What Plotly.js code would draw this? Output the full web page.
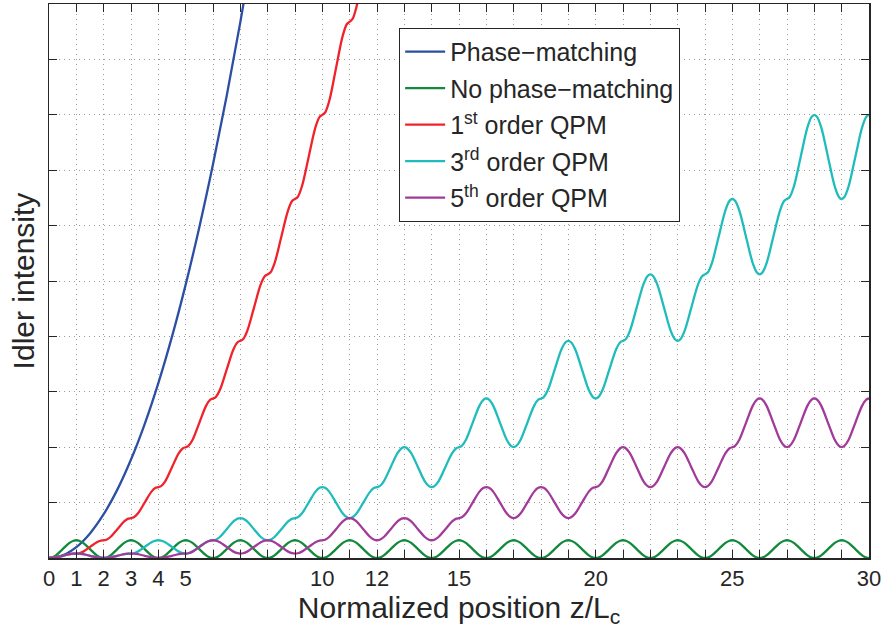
<!DOCTYPE html>
<html>
<head>
<meta charset="utf-8">
<script src="https://cdn.plot.ly/plotly-3.0.1.min.js"></script>
<style>html,body{margin:0;padding:0;background:#fff;}#chart{width:887px;height:635px;}</style>
</head>
<body>
<div id="chart"></div>
<script>
// Sample positions along z/Lc (read positions)
const zPos = [
0,0.1,0.25,0.5,0.75,0.9, 1,1.1,1.25,1.5,1.75,1.9, 2,2.1,2.25,2.5,2.75,2.9, 3,3.1,3.25,3.5,3.75,3.9,
4,4.1,4.25,4.5,4.75,4.9, 5,5.1,5.25,5.5,5.75,5.9, 6,6.1,6.25,6.5,6.75,6.9, 7,7.1,7.25,7.5,7.75,7.9,
8,8.1,8.25,8.5,8.75,8.9, 9,9.1,9.25,9.5,9.75,9.9, 10,10.1,10.25,10.5,10.75,10.9, 11,11.1,11.25,11.5,11.75,11.9,
12,12.1,12.25,12.5,12.75,12.9, 13,13.1,13.25,13.5,13.75,13.9, 14,14.1,14.25,14.5,14.75,14.9, 15,15.1,15.25,15.5,15.75,15.9,
16,16.1,16.25,16.5,16.75,16.9, 17,17.1,17.25,17.5,17.75,17.9, 18,18.1,18.25,18.5,18.75,18.9, 19,19.1,19.25,19.5,19.75,19.9,
20,20.1,20.25,20.5,20.75,20.9, 21,21.1,21.25,21.5,21.75,21.9, 22,22.1,22.25,22.5,22.75,22.9, 23,23.1,23.25,23.5,23.75,23.9,
24,24.1,24.25,24.5,24.75,24.9, 25,25.1,25.25,25.5,25.75,25.9, 26,26.1,26.25,26.5,26.75,26.9, 27,27.1,27.25,27.5,27.75,27.9,
28,28.1,28.25,28.5,28.75,28.9, 29,29.1,29.25,29.5,29.75,29.9, 30
];

const zBlue = [0,0.5,1,1.5,2,2.5,3,3.5,4,4.5,5,5.5,6,6.5,7,7.5];
const phaseMatching = [0,0.049,0.197,0.444,0.79,1.234,1.777,2.418,3.158,3.997,4.935,5.971,7.106,8.34,9.673,11.1];

const noPhaseMatching = [
0,0.008,0.047,0.16,0.273,0.312, 0.32,0.312,0.273,0.16,0.047,0.008,
0,0.008,0.047,0.16,0.273,0.312, 0.32,0.312,0.273,0.16,0.047,0.008,
0,0.008,0.047,0.16,0.273,0.312, 0.32,0.312,0.273,0.16,0.047,0.008,
0,0.008,0.047,0.16,0.273,0.312, 0.32,0.312,0.273,0.16,0.047,0.008,
0,0.008,0.047,0.16,0.273,0.312, 0.32,0.312,0.273,0.16,0.047,0.008,
0,0.008,0.047,0.16,0.273,0.312, 0.32,0.312,0.273,0.16,0.047,0.008,
0,0.008,0.047,0.16,0.273,0.312, 0.32,0.312,0.273,0.16,0.047,0.008,
0,0.008,0.047,0.16,0.273,0.312, 0.32,0.312,0.273,0.16,0.047,0.008,
0,0.008,0.047,0.16,0.273,0.312, 0.32,0.312,0.273,0.16,0.047,0.008,
0,0.008,0.047,0.16,0.273,0.312, 0.32,0.312,0.273,0.16,0.047,0.008,
0,0.008,0.047,0.16,0.273,0.312, 0.32,0.312,0.273,0.16,0.047,0.008,
0,0.008,0.047,0.16,0.273,0.312, 0.32,0.312,0.273,0.16,0.047,0.008,
0,0.008,0.047,0.16,0.273,0.312, 0.32,0.312,0.273,0.16,0.047,0.008,
0,0.008,0.047,0.16,0.273,0.312, 0.32,0.312,0.273,0.16,0.047,0.008,
0,0.008,0.047,0.16,0.273,0.312, 0.32,0.312,0.273,0.16,0.047,0.008,
0
];

const qpm1 = [
0,0.002,0.012,0.04,0.068,0.078,
0.08,0.086,0.115,0.2,0.285,0.314,
0.32,0.33,0.379,0.52,0.661,0.71,
0.72,0.734,0.802,1.0,1.198,1.266,
1.28,1.298,1.385,1.64,1.895,1.982,
2.0,2.022,2.129,2.44,2.751,2.859,
2.88,2.905,3.032,3.4,3.768,3.895,
3.92,3.949,4.096,4.52,4.944,5.091,
5.12,5.153,5.319,5.8,6.281,6.447,
6.48,6.517,6.703,7.24,7.777,7.963,
8.0,8.041,8.246,8.84,9.434,9.639,
9.68,9.725,9.95,10.6,11.25,11.475,
11.52
];

const qpm3 = [
0,0.002,0.012,0.04,0.068,0.078,
0.08,0.078,0.068,0.04,0.012,0.002,
0,0.002,0.012,0.04,0.068,0.078,
0.08,0.086,0.115,0.2,0.285,0.314,
0.32,0.314,0.285,0.2,0.115,0.086,
0.08,0.086,0.115,0.2,0.285,0.314,
0.32,0.33,0.379,0.52,0.661,0.71,
0.72,0.71,0.661,0.52,0.379,0.33,
0.32,0.33,0.379,0.52,0.661,0.71,
0.72,0.734,0.802,1.0,1.198,1.266,
1.28,1.266,1.198,1.0,0.802,0.734,
0.72,0.734,0.802,1.0,1.198,1.266,
1.28,1.298,1.385,1.64,1.895,1.982,
2.0,1.982,1.895,1.64,1.385,1.298,
1.28,1.298,1.385,1.64,1.895,1.982,
2.0,2.022,2.129,2.44,2.751,2.859,
2.88,2.859,2.751,2.44,2.129,2.022,
2.0,2.022,2.129,2.44,2.751,2.859,
2.88,2.905,3.032,3.4,3.768,3.895,
3.92,3.895,3.768,3.4,3.032,2.905,
2.88,2.905,3.032,3.4,3.768,3.895,
3.92,3.949,4.096,4.52,4.944,5.091,
5.12,5.091,4.944,4.52,4.096,3.949,
3.92,3.949,4.096,4.52,4.944,5.091,
5.12,5.153,5.319,5.8,6.281,6.447,
6.48,6.447,6.281,5.8,5.319,5.153,
5.12,5.153,5.319,5.8,6.281,6.447,
6.48,6.517,6.703,7.24,7.777,7.963,
8.0,7.963,7.777,7.24,6.703,6.517,
6.48,6.517,6.703,7.24,7.777,7.963,
8.0
];

const qpm5 = [
0,0.002,0.012,0.04,0.068,0.078,
0.08,0.078,0.068,0.04,0.012,0.002,
0,0.002,0.012,0.04,0.068,0.078,
0.08,0.078,0.068,0.04,0.012,0.002,
0,0.002,0.012,0.04,0.068,0.078,
0.08,0.086,0.115,0.2,0.285,0.314,
0.32,0.314,0.285,0.2,0.115,0.086,
0.08,0.086,0.115,0.2,0.285,0.314,
0.32,0.314,0.285,0.2,0.115,0.086,
0.08,0.086,0.115,0.2,0.285,0.314,
0.32,0.33,0.379,0.52,0.661,0.71,
0.72,0.71,0.661,0.52,0.379,0.33,
0.32,0.33,0.379,0.52,0.661,0.71,
0.72,0.71,0.661,0.52,0.379,0.33,
0.32,0.33,0.379,0.52,0.661,0.71,
0.72,0.734,0.802,1.0,1.198,1.266,
1.28,1.266,1.198,1.0,0.802,0.734,
0.72,0.734,0.802,1.0,1.198,1.266,
1.28,1.266,1.198,1.0,0.802,0.734,
0.72,0.734,0.802,1.0,1.198,1.266,
1.28,1.298,1.385,1.64,1.895,1.982,
2.0,1.982,1.895,1.64,1.385,1.298,
1.28,1.298,1.385,1.64,1.895,1.982,
2.0,1.982,1.895,1.64,1.385,1.298,
1.28,1.298,1.385,1.64,1.895,1.982,
2.0,2.022,2.129,2.44,2.751,2.859,
2.88,2.859,2.751,2.44,2.129,2.022,
2.0,2.022,2.129,2.44,2.751,2.859,
2.88,2.859,2.751,2.44,2.129,2.022,
2.0,2.022,2.129,2.44,2.751,2.859,
2.88
];

const xTickVals = [0,1,2,3,4,5,6,7,8,9,10,11,12,13,14,15,16,17,18,19,20,21,22,23,24,25,26,27,28,29,30];
const xTickText = ['0','1','2','3','4','5','','','','','10','','12','','','15','','','','','20','','','','','25','','','','','30'];
const yTickVals = [0,1,2,3,4,5,6,7,8,9,10];

const seriesNames = ['Phase\u2212matching','No phase\u2212matching','1<sup>st</sup> order QPM','3<sup>rd</sup> order QPM','5<sup>th</sup> order QPM'];
const seriesColors = ['#2c4fa3','#128a3c','#f0232b','#20bcbc','#a23a9a'];

function tr(x, y, i) {
  return {x: x, y: y, type: 'scatter', mode: 'lines', name: seriesNames[i], legendgroup: 'g' + i,
    line: {color: seriesColors[i], width: 2.3, shape: 'spline', smoothing: 1}};
}

const data = [
  tr(zBlue, phaseMatching, 0),
  tr(zPos, noPhaseMatching, 1),
  tr(zPos.slice(0, qpm1.length), qpm1, 2),
  tr(zPos, qpm3, 3),
  tr(zPos, qpm5, 4)
];

const axisCommon = {
  ticks: 'inside', ticklen: 8, tickwidth: 1, tickcolor: '#262626',
  showline: true, linecolor: '#262626', linewidth: 1.5, mirror: 'ticks',
  showgrid: true, gridcolor: '#9a9a9a', gridwidth: 1, griddash: '1px,4px',
  zeroline: false
};

const layout = {
  width: 887, height: 635,
  margin: {l: 49, r: 18, t: 4, b: 77},
  paper_bgcolor: '#ffffff', plot_bgcolor: '#ffffff',
  font: {family: 'Liberation Sans, Arial, Helvetica, sans-serif', color: '#262626'},
  showlegend: true,
  legend: {x: 0.427, y: 0.957, xanchor: 'left', yanchor: 'top', bgcolor: '#ffffff',
    bordercolor: '#262626', borderwidth: 1, font: {size: 25, color: '#262626'},
    itemwidth: 40, tracegroupgap: 1, traceorder: 'grouped'},
  xaxis: Object.assign({}, axisCommon, {
    range: [0, 30], tickmode: 'array', tickvals: xTickVals, ticktext: xTickText,
    tickfont: {size: 22, color: '#262626'},
    title: {text: 'Normalized position z/L<sub>c</sub>', font: {size: 30, color: '#262626'}, standoff: 0}
  }),
  yaxis: Object.assign({}, axisCommon, {
    range: [0, 10], tickmode: 'array', tickvals: yTickVals, showticklabels: false,
    title: {text: 'Idler intensity', font: {size: 30, color: '#262626'}, standoff: 4}
  })
};

Plotly.newPlot('chart', data, layout, {displayModeBar: false, staticPlot: true});
</script>
</body>
</html>
